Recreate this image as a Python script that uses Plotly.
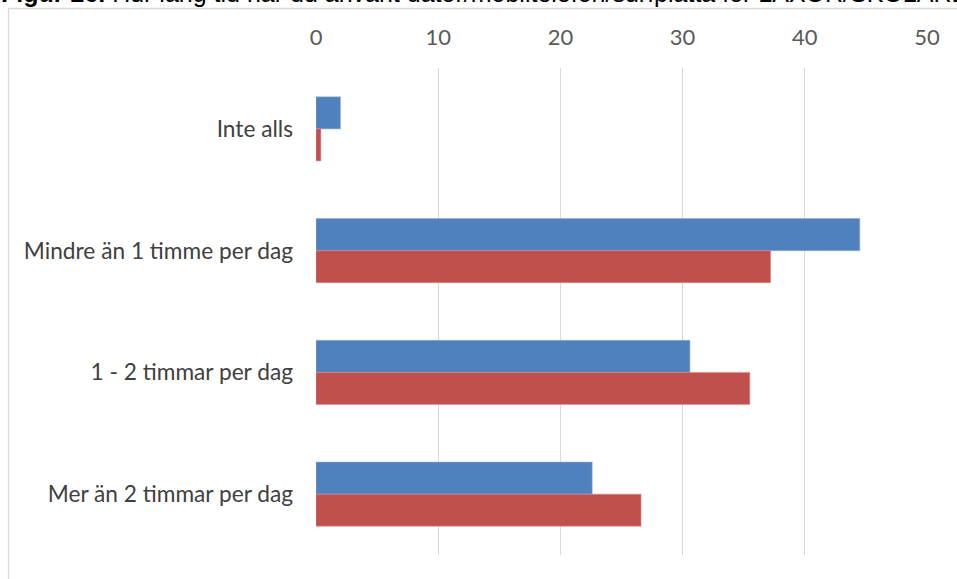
import plotly.graph_objects as go

categories = ["Inte alls", "Mindre än 1 timme per dag", "1 - 2 timmar per dag", "Mer än 2 timmar per dag"]
series_a = [2.0, 44.5, 30.6, 22.6]
series_b = [0.4, 37.2, 35.5, 26.6]
tick_vals = [0, 10, 20, 30, 40, 50]

W, H = 957, 579
L, R, T, B = 316, 30, 68, 24
pw, ph = W - L - R, H - T - B

def px(x):
    return (x - L) / pw

def py(y):
    return (H - B - y) / ph

fig = go.Figure()
fig.add_trace(go.Bar(y=categories, x=series_a, orientation="h", name="A",
                     marker=dict(color="#4F81BD", line=dict(color="#8DAAD6", width=0.6))))
fig.add_trace(go.Bar(y=categories, x=series_b, orientation="h", name="B",
                     marker=dict(color="#C0504D", line=dict(color="#D98A88", width=0.6))))

fig.update_layout(
    width=W, height=H,
    margin=dict(l=L, r=R, t=T, b=B),
    barmode="group", bargap=0.474, bargroupgap=0,
    showlegend=False,
    plot_bgcolor="white", paper_bgcolor="white",
    font=dict(family="Lato", size=22.7, color="#595959"),
    xaxis=dict(side="top", range=[0, 50], tickvals=tick_vals, showgrid=True,
               gridcolor="#D9D9D9", gridwidth=1.3, zeroline=False, showline=False,
               ticks="", ticklabelstandoff=18, tickfont=dict(size=22, color="#595959")),
    yaxis=dict(autorange="reversed", showgrid=False, zeroline=False, showline=False,
               ticks="", ticklabelstandoff=22, tickfont=dict(size=22.7, color="#404040")),
    shapes=[
        dict(type="line", xref="paper", yref="paper", x0=px(8), x1=px(960), y0=py(8.5), y1=py(8.5),
             line=dict(color="#D9D9D9", width=1.3)),
        dict(type="line", xref="paper", yref="paper", x0=px(8.5), x1=px(8.5), y0=py(8), y1=py(585),
             line=dict(color="#D9D9D9", width=1.3)),
    ],
    annotations=[
        dict(xref="paper", yref="paper", x=px(-1), y=py(-7), xanchor="left", yanchor="middle",
             showarrow=False, align="left",
             text="<b>Figur 26.</b> Hur lång tid har du använt dator/mobiltelefon/surfplatta för LÄXOR/SKOLARBETE per dag?",
             font=dict(family="Liberation Sans", size=25, color="#000000")),
    ],
)

fig.write_html("out.html")
